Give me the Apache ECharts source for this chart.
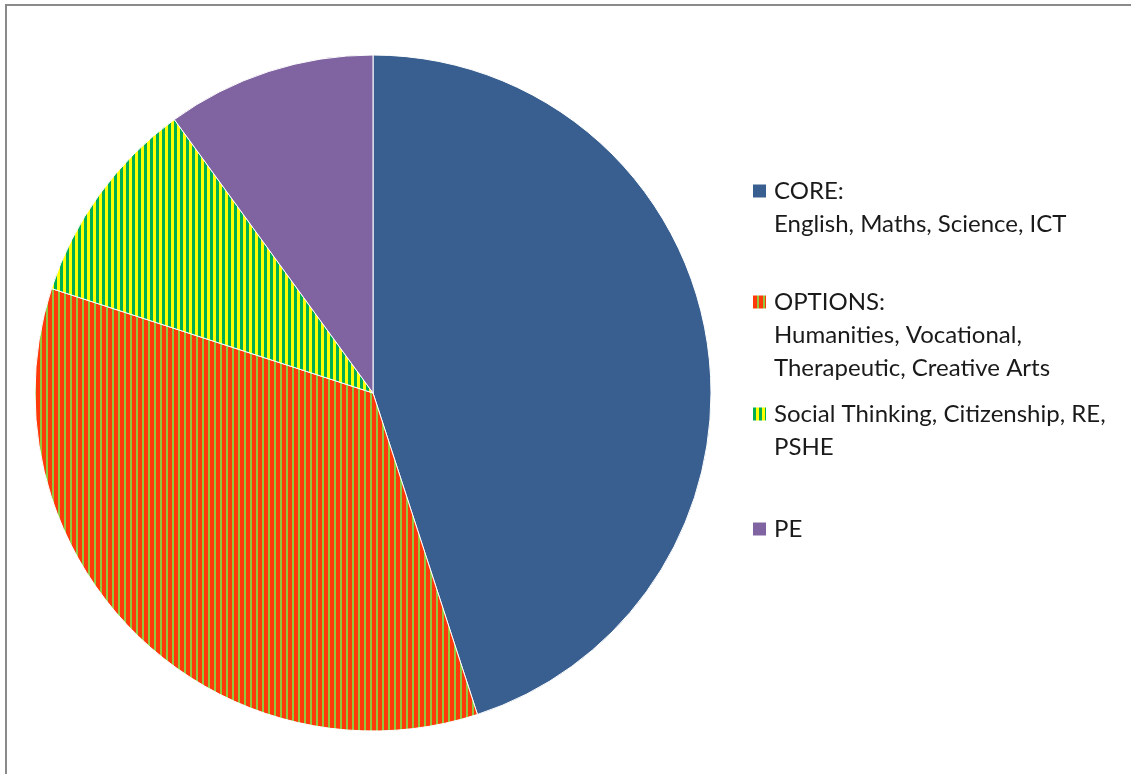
<!DOCTYPE html>
<html>
<head>
<meta charset="utf-8">
<script src="https://cdn.jsdelivr.net/npm/echarts@6/dist/echarts.min.js"></script>
<style>
html,body{margin:0;padding:0;background:#fff;}
#chart{width:1131px;height:774px;}
</style>
</head>
<body>
<div id="chart"></div>
<script>
// ---- data ----
const categories = [
  "CORE:\nEnglish, Maths, Science, ICT",
  "OPTIONS:\nHumanities, Vocational,\nTherapeutic, Creative Arts",
  "Social Thinking, Citizenship, RE,\nPSHE",
  "PE"
];
const values = [45, 35, 10, 10];

// ---- styles ----
function stripes(c1, w1, c2, w2) {
  const cv = document.createElement('canvas');
  cv.width = w1 + w2; cv.height = 8;
  const ctx = cv.getContext('2d');
  ctx.fillStyle = c1; ctx.fillRect(0, 0, w1, 8);
  ctx.fillStyle = c2; ctx.fillRect(w1, 0, w2, 8);
  return { image: cv, repeat: 'repeat' };
}
const fills = [
  '#385F8F',
  stripes('#FF3A0A', 4, '#92C83E', 2),
  stripes('#00B050', 3, '#FFFF00', 3),
  '#8064A2'
];

const LH = 33;
const FONT = 'Lato';
const iconCenters = [191, 302, 414, 529];

const legends = categories.map((name, i) => {
  const n = name.split('\n').length;
  const top = iconCenters[i] - LH * (2 * n - 1) / 2;
  return {
    show: true,
    orient: 'vertical',
    left: 753,
    top: top,
    padding: 0,
    itemWidth: 13,
    itemHeight: 13,
    icon: 'rect',
    selectedMode: false,
    itemStyle: { borderWidth: 0 },
    data: [{ name: name }],
    formatter: function (nm) {
      const k = nm.split('\n').length - 1;
      return '\n'.repeat(k) + nm;
    },
    textStyle: {
      fontFamily: FONT,
      fontSize: 24,
      color: '#1a1a1a',
      lineHeight: LH,
      padding: [0, 0, 0, 3]
    }
  };
});

const chart = echarts.init(document.getElementById('chart'), null, { renderer: 'canvas' });
chart.setOption({
  animation: false,
  backgroundColor: '#ffffff',
  legend: legends,
  graphic: [{
    type: 'rect',
    shape: { x: 6, y: 5, width: 1140, height: 800 },
    style: { fill: 'none', stroke: '#8a8a8a', lineWidth: 2 },
    silent: true
  }],
  series: [{
    type: 'pie',
    center: [373, 393],
    radius: 338,
    startAngle: 90,
    clockwise: true,
    label: { show: false },
    labelLine: { show: false },
    emphasis: { disabled: true },
    itemStyle: { borderColor: '#ffffff', borderWidth: 1 },
    data: categories.map((name, i) => ({
      name: name,
      value: values[i],
      itemStyle: { color: fills[i] }
    }))
  }]
});
</script>
</body>
</html>
